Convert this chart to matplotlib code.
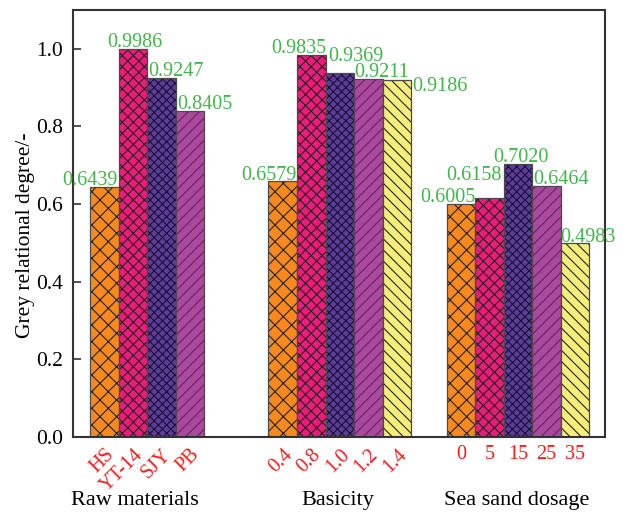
import numpy as np
import matplotlib
matplotlib.use('Agg')
import matplotlib.pyplot as plt
from matplotlib.transforms import blended_transform_factory

plt.rcParams['font.family'] = ['Liberation Serif', 'DejaVu Serif']
plt.rcParams['hatch.linewidth'] = 0.8

# data
groups = ['Raw materials', 'Basicity', 'Sea sand dosage']
raw_names = ['HS', 'YT-14', 'SJY', 'PB']
raw_vals = [0.6439, 0.9986, 0.9247, 0.8405]
bas_names = ['0.4', '0.8', '1.0', '1.2', '1.4']
bas_vals = [0.6579, 0.9835, 0.9369, 0.9211, 0.9186]
sea_names = ['0', '5', '15', '25', '35']
sea_vals = [0.6005, 0.6158, 0.7020, 0.6464, 0.4983]

# style per bar slot
colors = ['#F7891F', '#EC1C7A', '#5C3D9A', '#AA4A9C', '#F6EE7A']
hatches = ['xx', 'xxx', 'xxxx', '///', '\\\\\\']
hcolors = ['#222222', '#222222', '#1a1030', '#6a1f66', '#222222']

# label nudges (dx, dy) in data units
raw_off = [(-0.5, 0), (0.05, 0), (0.52, 0), (0.53, 0)]
bas_off = [(-0.5, 0), (-0.44, 0), (0.56, 0.026), (0.47, 0), (1.53, -0.032)]
sea_off = [(-0.47, 0), (-0.54, 0.04), (0.1, 0), (0.51, 0), (0.46, 0)]

starts = [0, 6.25, 12.5]
all_names = [raw_names, bas_names, sea_names]
all_vals = [raw_vals, bas_vals, sea_vals]
all_off = [raw_off, bas_off, sea_off]

fig = plt.figure(figsize=(6.23, 5.17), dpi=100)
ax = fig.add_axes([0.117, 0.155, 0.854, 0.826])

green = '#41B649'
red = '#FF1A1A'
tick_pos, tick_lab, tick_rot = [], [], []
for g, (s, names, vals, offs) in enumerate(zip(starts, all_names, all_vals, all_off)):
    x = s + np.arange(len(vals))
    for i in range(len(vals)):
        ax.bar(x[i], vals[i], width=1.0, color=colors[i], hatch=hatches[i],
               edgecolor=hcolors[i], linewidth=0)
        ax.bar(x[i], vals[i], width=1.0, fill=False, edgecolor='#4a4a4a', linewidth=0.9)
        dx, dy = offs[i]
        ax.text(x[i] + dx, vals[i] + dy - 0.008, '%.4f' % vals[i], color=green,
                fontsize=14.5, ha='center', va='bottom')
    tick_pos += list(x)
    tick_lab += names
    tick_rot += [45 if g < 2 else 0] * len(names)

ax.set_xlim(-1.11, 17.55)
ax.set_ylim(0, 1.1)
ax.set_xticks(tick_pos)
ax.set_xticklabels(tick_lab)
for lab, rot in zip(ax.get_xticklabels(), tick_rot):
    lab.set_color(red)
    lab.set_fontsize(14.5)
    if rot:
        lab.set_rotation(45)
        lab.set_ha('right')
        lab.set_va('top')
        lab.set_rotation_mode('anchor')
ax.tick_params(axis='x', length=0, pad=6)

ax.set_yticks(np.arange(0, 1.01, 0.2))
ax.set_yticklabels(['%.1f' % v for v in np.arange(0, 1.01, 0.2)])
ax.tick_params(axis='y', direction='in', length=6, width=1.2, labelsize=15.5,
               pad=7, color='#333333', right=False)
ax.set_ylabel('Grey relational degree/-', fontsize=15.5)
ax.yaxis.set_label_coords(-0.072, 0.473)

for sp in ax.spines.values():
    sp.set_color('#333333')
    sp.set_linewidth(1.5)

trans = blended_transform_factory(ax.transData, ax.transAxes)
group_x = [1.06, 8.18, 14.47]
for gx, name in zip(group_x, groups):
    ax.text(gx, -0.15, name, transform=trans, ha='center', va='center', fontsize=16)

fig.savefig('out.png', dpi=100)
